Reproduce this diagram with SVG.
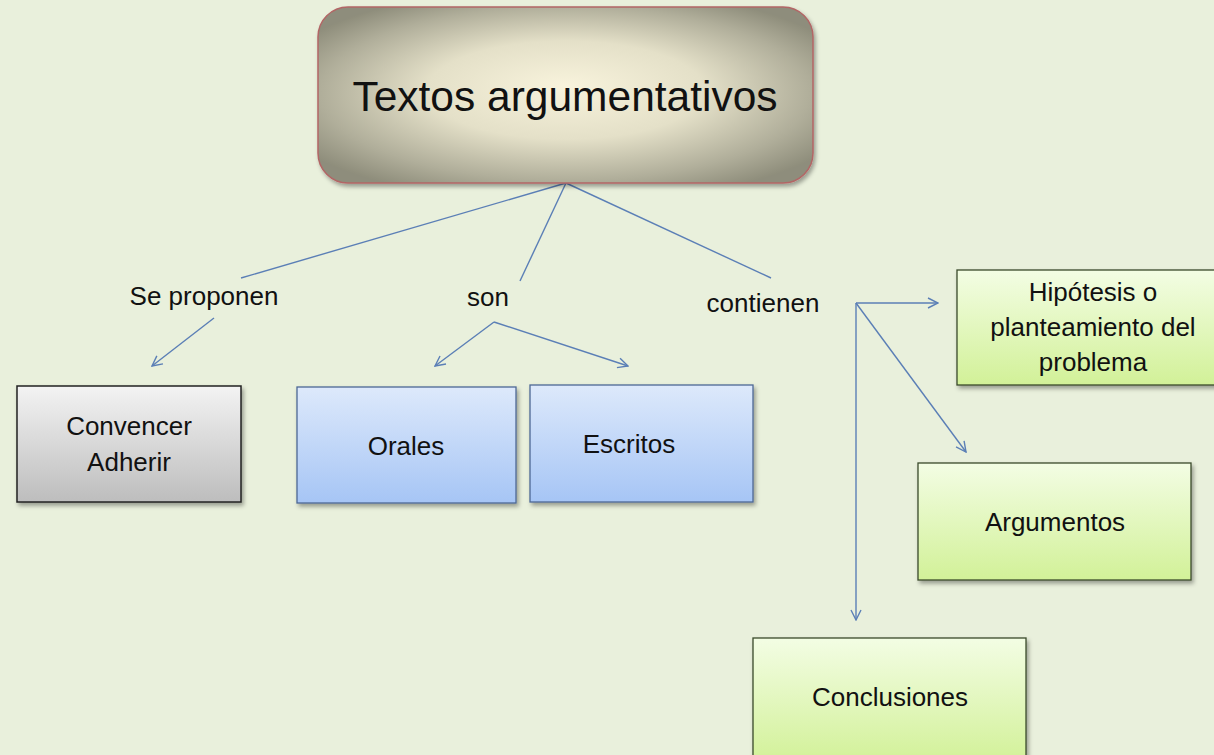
<svg xmlns="http://www.w3.org/2000/svg" width="1214" height="755" viewBox="0 0 1214 755">
<defs>
<style>
.t{font-family:"Liberation Sans",Arial,sans-serif;fill:#111;text-anchor:middle;}
.lbl{font-size:26px;}
.conn{stroke:#5b7fb6;stroke-width:1.4;fill:none;}
.arr{marker-end:url(#ah);}
</style>
<radialGradient id="gMain" cx="0.5" cy="0.5" r="0.62" fx="0.5" fy="0.45">
<stop offset="0" stop-color="#f8f3dc"/>
<stop offset="0.45" stop-color="#e4e0c8"/>
<stop offset="0.8" stop-color="#b0ae9a"/>
<stop offset="1" stop-color="#8e8d7b"/>
</radialGradient>
<linearGradient id="gGrey" x1="0" y1="0" x2="0" y2="1">
<stop offset="0" stop-color="#f3f3f3"/>
<stop offset="1" stop-color="#bdbdbd"/>
</linearGradient>
<linearGradient id="gBlue" x1="0" y1="0" x2="0" y2="1">
<stop offset="0" stop-color="#dde9fb"/>
<stop offset="1" stop-color="#a6c5f5"/>
</linearGradient>
<linearGradient id="gGreen" x1="0" y1="0" x2="0" y2="1">
<stop offset="0" stop-color="#f3fde4"/>
<stop offset="1" stop-color="#d2f198"/>
</linearGradient>
<filter id="sh" x="-10%" y="-10%" width="125%" height="130%">
<feDropShadow dx="2" dy="3" stdDeviation="2" flood-color="#000" flood-opacity="0.35"/>
</filter>
<marker id="ah" viewBox="0 0 12 12" refX="11" refY="6" markerWidth="12" markerHeight="12" markerUnits="userSpaceOnUse" orient="auto">
<path d="M1,1 L11,6 L1,11" fill="none" stroke="#5b7fb6" stroke-width="1.4"/>
</marker>
</defs>
<rect x="0" y="0" width="1214" height="755" fill="#e9f0dc"/>

<g id="connectors">
<line class="conn" x1="566" y1="183" x2="241" y2="278"/>
<line class="conn" x1="566" y1="183" x2="520" y2="281"/>
<line class="conn" x1="566" y1="183" x2="771" y2="278"/>
<line class="conn arr" x1="214" y1="318" x2="152" y2="366"/>
<line class="conn arr" x1="494" y1="322" x2="435" y2="366"/>
<line class="conn arr" x1="494" y1="322" x2="628" y2="366"/>
<line class="conn arr" x1="856" y1="303" x2="938" y2="303"/>
<line class="conn arr" x1="856" y1="303" x2="966" y2="452"/>
<line class="conn arr" x1="856" y1="303" x2="856" y2="620"/>
</g>

<g id="labels">
<text class="t lbl" x="204" y="305">Se proponen</text>
<text class="t lbl" x="488" y="306">son</text>
<text class="t lbl" x="763" y="312">contienen</text>
</g>

<g id="main">
<rect x="318" y="7" width="495" height="176" rx="30" ry="30" fill="url(#gMain)" stroke="#b26666" stroke-width="1.5" filter="url(#sh)"/>
<text class="t" x="565" y="111" font-size="42.5">Textos argumentativos</text>
</g>

<g id="convencer">
<rect x="17" y="386" width="224" height="116" fill="url(#gGrey)" stroke="#222" stroke-width="1.5" filter="url(#sh)"/>
<text class="t lbl" x="129" y="435">Convencer</text>
<text class="t lbl" x="129" y="471">Adherir</text>
</g>

<g id="orales">
<rect x="297" y="387" width="219" height="116" fill="url(#gBlue)" stroke="#4d6894" stroke-width="1.3" filter="url(#sh)"/>
<text class="t lbl" x="406" y="455">Orales</text>
</g>

<g id="escritos">
<rect x="530" y="385" width="223" height="117" fill="url(#gBlue)" stroke="#4d6894" stroke-width="1.3" filter="url(#sh)"/>
<text class="t lbl" x="629" y="453">Escritos</text>
</g>

<g id="hipotesis">
<rect x="957" y="270" width="262" height="115" fill="url(#gGreen)" stroke="#3a4a2a" stroke-width="1.3" filter="url(#sh)"/>
<text class="t lbl" x="1093" y="301">Hipótesis o</text>
<text class="t lbl" x="1093" y="336">planteamiento del</text>
<text class="t lbl" x="1093" y="371">problema</text>
</g>

<g id="argumentos">
<rect x="918" y="463" width="273" height="117" fill="url(#gGreen)" stroke="#3a4a2a" stroke-width="1.3" filter="url(#sh)"/>
<text class="t lbl" x="1055" y="531">Argumentos</text>
</g>

<g id="conclusiones">
<rect x="753" y="638" width="273" height="125" fill="url(#gGreen)" stroke="#3a4a2a" stroke-width="1.3" filter="url(#sh)"/>
<text class="t lbl" x="890" y="706">Conclusiones</text>
</g>
</svg>
